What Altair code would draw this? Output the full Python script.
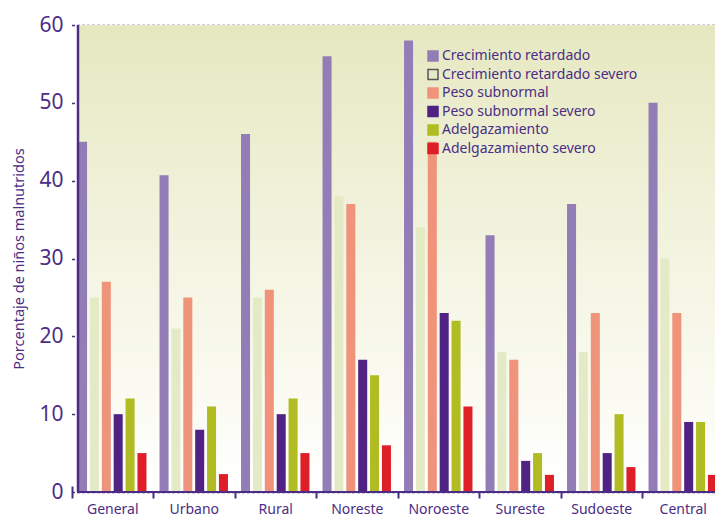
import altair as alt
import pandas as pd

regions = ["General", "Urbano", "Rural", "Noreste", "Noroeste", "Sureste", "Sudoeste", "Central"]
series = ["Crecimiento retardado", "Crecimiento retardado severo", "Peso subnormal",
          "Peso subnormal severo", "Adelgazamiento", "Adelgazamiento severo"]
colors = ["#927DB6", "#E5EAC6", "#EF937A", "#4F2283", "#B0BC21", "#DE1F28"]
strokes = ["#927DB6", "#555555", "#EF937A", "#4F2283", "#B0BC21", "#DE1F28"]

crecimiento = [45, 40.7, 46, 56, 58, 33, 37, 50]
crecimiento_severo = [25, 21, 25, 38, 34, 18, 18, 30]
peso = [27, 25, 26, 37, 45, 17, 23, 23]
peso_severo = [10, 8, 10, 17, 23, 4, 5, 9]
adelgazamiento = [12, 11, 12, 15, 22, 5, 10, 9]
adelgazamiento_severo = [5, 2.3, 5, 6, 11, 2.2, 3.2, 2.2]

y_ticks = [0, 10, 20, 30, 40, 50, 60]

values = [crecimiento, crecimiento_severo, peso, peso_severo, adelgazamiento, adelgazamiento_severo]
rows = []
for s, vals in zip(series, values):
    for r, v in zip(regions, vals):
        rows.append({"Region": r, "Serie": s, "Valor": v})
df = pd.DataFrame(rows)

TXT = "#4B2D85"
FONT = "Noto Sans"
W, H = 637, 467

bg = alt.Chart(pd.DataFrame({"a": [0]})).mark_rect(
    color=alt.Gradient(
        gradient="linear", x1=0, x2=0, y1=0, y2=1,
        stops=[alt.GradientStop(offset=0, color="#E6E8C1"),
               alt.GradientStop(offset=0.45, color="#F2F3DE"),
               alt.GradientStop(offset=0.85, color="#FCFCF6"),
               alt.GradientStop(offset=1, color="#FFFFFF")]
    )
).encode(x=alt.value(0), x2=alt.value(W), y=alt.value(0), y2=alt.value(H))

leg = alt.Legend(orient="none", legendX=348, legendY=24, title=None, symbolType="square",
                 symbolSize=100, labelFontSize=14, labelColor=TXT, labelFont=FONT, labelLimit=400,
                 symbolStrokeWidth=1.5, padding=0, rowPadding=2.5, labelOffset=2)

bars = alt.Chart(df).mark_bar(strokeWidth=0).encode(
    x=alt.X("Region:N", sort=regions,
            scale=alt.Scale(range=[-6.5, 645.5], paddingInner=0, paddingOuter=0),
            axis=alt.Axis(title=None, labelAngle=0, labelFontSize=14, labelColor=TXT, labelFont=FONT,
                          tickBand="extent", tickColor=TXT, tickWidth=2, tickSize=12, offset=-6,
                          domain=False, labelPadding=4, grid=False)),
    xOffset=alt.XOffset("Serie:N", sort=series,
                        scale=alt.Scale(paddingInner=0.24, paddingOuter=0.55)),
    y=alt.Y("Valor:Q", scale=alt.Scale(domain=[0, 60], nice=False),
            axis=alt.Axis(values=y_ticks, grid=True, gridDash=[3, 2], gridColor=TXT, gridWidth=1.6,
                          ticks=False, domain=False, labelFontSize=21, labelColor=TXT, labelFont=FONT,
                          labelPadding=15, title="Porcentaje de niños malnutridos", titleFontSize=14.5,
                          titleColor=TXT, titleFont=FONT, titleFontWeight="normal", titlePadding=12)),
    color=alt.Color("Serie:N", sort=series, scale=alt.Scale(domain=series, range=colors), legend=leg),
    stroke=alt.Stroke("Serie:N", sort=series, scale=alt.Scale(domain=series, range=strokes), legend=leg),
)

xline = alt.Chart(pd.DataFrame({"v": [0]})).mark_rule(color=TXT, strokeWidth=2).encode(
    y=alt.Y("v:Q", scale=alt.Scale(domain=[0, 60], nice=False)))
yline = alt.Chart(pd.DataFrame({"v": [0]})).mark_rule(color=TXT, strokeWidth=2.5).encode(
    x=alt.value(0), y=alt.value(0), y2=alt.value(H))

chart = alt.layer(bg, bars, xline, yline).properties(
    width=W, height=H, autosize=alt.AutoSizeParams(type="none"),
    padding={"left": 70, "top": 17, "right": 0, "bottom": 28}
).configure_view(stroke=None).configure(background="white")

chart.save("out.html", embed_options={"renderer": "svg", "actions": False})
